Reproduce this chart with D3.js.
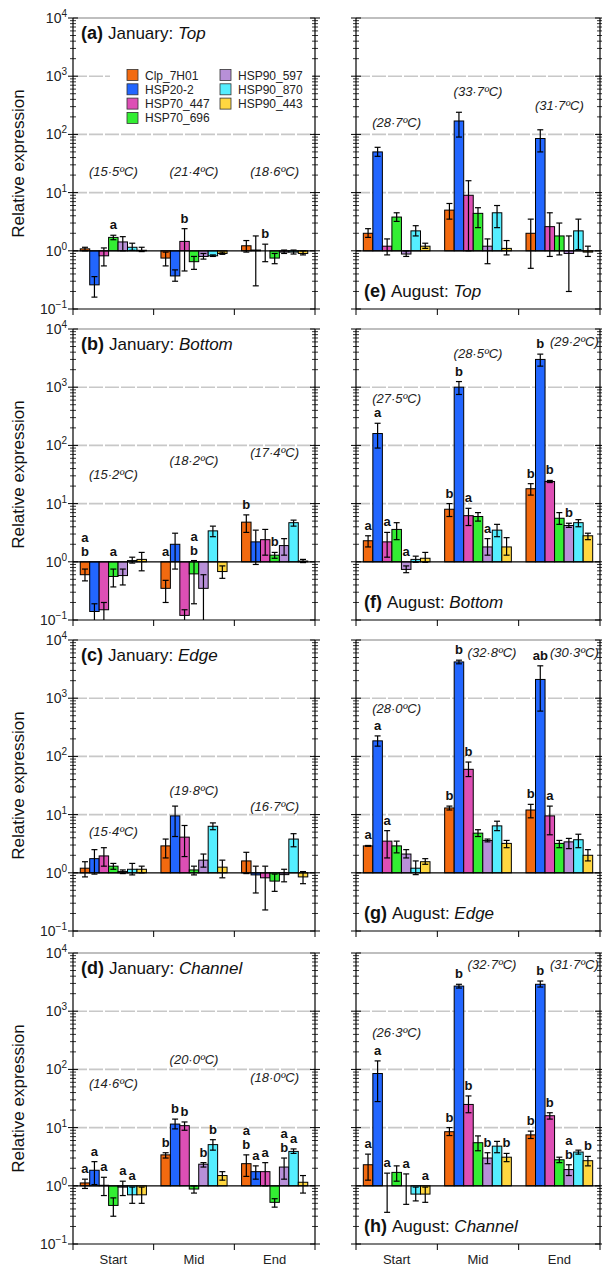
<!DOCTYPE html>
<html><head><meta charset="utf-8">
<script src="https://cdn.jsdelivr.net/npm/d3@7/dist/d3.min.js"></script>
<style>body{margin:0;background:#fff}svg{font-family:Arial,"Liberation Sans",sans-serif}</style>
</head><body><svg id="c" width="602" height="1270"></svg>
<script>
const genes = ["Clp_7H01","HSP20-2","HSP70_447","HSP70_696","HSP90_597","HSP90_870","HSP90_443"];
const colors = ["#f26a10","#2266ff","#dd4fb5","#33ee33","#b890d8","#55eeff","#ffd740"];
const stages = ["Start","Mid","End"];

// value, low, high of error bar: [stage][gene]
const janTopV=[[1.08,0.26,0.82,1.7,1.42,1.15,1.02],[0.75,0.37,1.45,0.65,0.8,0.82,0.9],[1.22,1.03,1.0,0.75,0.95,0.95,0.9]];
const janTopLo=[[1.0,0.16,0.55,1.55,1.0,1.02,0.97],[0.55,0.3,0.45,0.48,0.72,0.8,0.87],[0.95,0.25,0.65,0.6,0.9,0.88,0.85]];
const janTopHi=[[1.15,0.36,1.12,1.85,1.75,1.35,1.15],[0.95,0.47,2.4,0.8,0.9,0.85,0.95],[1.5,1.8,1.3,0.9,1.03,1.03,1.0]];
const janBotV=[[0.6,0.14,0.15,0.56,0.58,1.05,1.1],[0.35,2.0,0.12,0.62,0.35,3.4,0.68],[4.8,2.2,2.4,1.3,1.9,4.7,1.03]];
const janBotLo=[[0.47,0.1,0.1,0.37,0.4,0.95,0.7],[0.2,0.75,0.1,0.19,0.1,2.7,0.52],[3.2,0.9,1.3,1.15,1.3,4.1,0.97]];
const janBotHi=[[0.75,0.19,0.2,0.75,0.75,1.2,1.45],[0.48,3.1,0.15,1.05,0.6,4.1,0.85],[6.4,3.5,3.6,1.45,2.5,5.2,1.1]];
const janEdgV=[[1.2,1.75,1.95,1.3,1.05,1.15,1.15],[2.9,9.5,4.1,1.12,1.65,6.3,1.25],[1.6,0.92,0.82,0.72,0.93,3.8,0.85]];
const janEdgLo=[[0.85,0.95,1.3,1.15,0.97,0.92,1.0],[1.8,4.2,1.9,0.92,1.25,5.5,0.82],[0.97,0.45,0.23,0.48,0.7,2.8,0.65]];
const janEdgHi=[[1.55,2.5,2.7,1.45,1.12,1.45,1.3],[3.8,14,6.5,1.3,2.1,7.2,1.65],[2.25,1.3,1.3,0.95,1.15,4.7,1.05]];
const janChaV=[[1.12,1.85,1.02,0.46,0.95,0.7,0.7],[3.4,11.5,10.8,0.88,2.35,5.1,1.5],[2.4,1.75,1.75,0.52,2.1,3.9,1.15]];
const janChaLo=[[0.9,1.05,0.68,0.3,0.68,0.5,0.5],[3.0,9.5,9.0,0.75,2.1,4.1,1.25],[1.45,1.3,1.0,0.43,1.3,3.6,0.75]];
const janChaHi=[[1.3,2.6,1.4,0.62,1.2,0.95,0.95],[3.7,14,12.5,1.0,2.5,6.2,1.75],[3.4,2.2,2.5,0.6,3.0,4.3,1.5]];
const augTopV=[[2.0,50,1.2,3.8,0.88,2.2,1.2],[5.0,170,9.0,4.4,1.2,4.5,1.1],[2.0,85,2.6,1.8,0.9,2.2,0.95]];
const augTopLo=[[1.7,42,0.85,3.2,0.8,1.8,1.1],[3.5,90,1.0,2.5,0.6,2.5,0.85],[0.5,50,0.8,0.85,0.2,1.05,0.8]];
const augTopHi=[[2.4,60,1.6,4.5,1.0,2.7,1.35],[6.5,240,16,5.5,1.6,6.0,1.5],[3.5,120,4.5,3.0,1.8,3.5,1.2]];
const augBotV=[[2.3,160,2.2,3.6,0.74,1.1,1.15],[8,1000,6.2,6.0,1.8,3.5,1.8],[18,3000,24,5.6,4.2,4.7,2.8]];
const augBotLo=[[1.8,90,1.2,2.4,0.65,0.98,0.98],[6,750,4.2,5.0,1.3,2.7,1.3],[14,2300,23,4.4,3.9,4.0,2.4]];
const augBotHi=[[2.8,240,3.2,4.7,0.85,1.25,1.45],[10,1250,8.3,7.0,2.5,4.4,2.6],[22,3700,25,7.0,4.6,5.3,3.1]];
const augEdgV=[[2.9,185,3.5,2.9,2.1,1.2,1.55],[13,4200,60,4.8,3.6,6.4,3.2],[12,2100,9.5,3.2,3.4,3.7,2.0]];
const augEdgLo=[[2.85,150,1.8,2.2,1.8,0.93,1.4],[12,3900,45,4.2,3.4,5.3,2.7],[8.8,600,4.5,2.7,2.6,2.7,1.6]];
const augEdgHi=[[2.95,225,5.3,3.5,2.5,1.6,1.75],[14,4500,80,5.5,3.8,7.7,3.6],[15,3600,14,3.6,3.9,4.6,2.5]];
const augChaV=[[2.3,85,1.0,1.7,1.0,0.72,0.72],[8.5,2700,25,5.5,3.0,4.8,3.1],[7.5,2900,16,2.8,1.9,3.8,2.7]];
const augChaLo=[[1.25,28,0.35,1.2,0.48,0.55,0.52],[7.3,2500,18,4.0,2.4,3.7,2.6],[6.5,2600,14,2.5,1.5,3.5,2.2]];
const augChaHi=[[3.5,140,1.65,2.2,1.6,0.95,0.95],[10,2900,35,7.2,3.7,5.8,3.6],[8.7,3300,18,3.1,2.3,4.1,3.2]];

// significance letters: [stage, gene, text]
const lettersA=[[0,3,"a"],[1,2,"b"],[2,2,"b"]];
const lettersB=[[0,0,"a\nb"],[0,3,"a"],[1,0,"a"],[1,3,"a\nb"],[2,0,"b"],[2,3,"b"]];
const lettersC=[];
const lettersD=[[0,0,"a"],[0,1,"a"],[0,2,"a"],[0,4,"a"],[0,5,"a"],[1,0,"b"],[1,1,"b"],[1,2,"b"],[1,4,"b"],[1,5,"b"],[2,0,"a\nb"],[2,1,"a"],[2,2,"a"],[2,4,"a\nb"],[2,5,"a"]];
const lettersE=[];
const lettersF=[[0,0,"a"],[0,1,"a"],[0,2,"a"],[0,4,"a"],[1,0,"b"],[1,1,"b"],[1,2,"a"],[1,4,"a"],[2,0,"b"],[2,1,"b"],[2,2,"b"],[2,4,"b"]];
const lettersG=[[0,0,"a"],[0,1,"a"],[0,2,"a"],[1,0,"b"],[1,1,"b"],[1,2,"b"],[2,0,"b"],[2,1,"ab"],[2,2,"a"]];
const lettersH=[[0,0,"a"],[0,1,"a"],[0,2,"a"],[0,4,"a"],[0,6,"a"],[1,0,"b"],[1,1,"b"],[1,2,"b"],[1,4,"b"],[1,6,"b"],[2,0,"b"],[2,1,"b"],[2,2,"b"],[2,4,"a\nb"],[2,6,"b"]];

// temperature labels: [text, value level (log10), x shift]
const tempA=[["(15·5ºC)",1.36,0],["(21·4ºC)",1.36,0],["(18·6ºC)",1.36,0]];
const tempB=[["(15·2ºC)",1.49,0],["(18·2ºC)",1.74,0],["(17·4ºC)",1.87,0]];
const tempC=[["(15·4ºC)",0.7,0],["(19·8ºC)",1.41,0],["(16·7ºC)",1.13,0]];
const tempD=[["(14·6ºC)",1.75,0],["(20·0ºC)",2.16,0],["(18·0ºC)",1.86,0]];
const tempE=[["(28·7ºC)",2.19,0],["(33·7ºC)",2.72,0],["(31·7ºC)",2.48,0]];
const tempF=[["(27·5ºC)",2.8,0],["(28·5ºC)",3.57,0],["(29·2ºC)",3.78,15]];
const tempG=[["(28·0ºC)",2.82,0],["(32·8ºC)",3.78,14],["(30·3ºC)",3.78,15]];
const tempH=[["(26·3ºC)",2.62,0],["(32·7ºC)",3.8,14],["(31·7ºC)",3.8,15]];

const panels=[
 {id:"(a)",mon:"January: ",site:"Top",col:0,row:0,v:janTopV,lo:janTopLo,hi:janTopHi,let:lettersA,t:tempA},
 {id:"(b)",mon:"January: ",site:"Bottom",col:0,row:1,v:janBotV,lo:janBotLo,hi:janBotHi,let:lettersB,t:tempB},
 {id:"(c)",mon:"January: ",site:"Edge",col:0,row:2,v:janEdgV,lo:janEdgLo,hi:janEdgHi,let:lettersC,t:tempC},
 {id:"(d)",mon:"January: ",site:"Channel",col:0,row:3,v:janChaV,lo:janChaLo,hi:janChaHi,let:lettersD,t:tempD},
 {id:"(e)",mon:"August: ",site:"Top",col:1,row:0,v:augTopV,lo:augTopLo,hi:augTopHi,let:lettersE,t:tempE},
 {id:"(f)",mon:"August: ",site:"Bottom",col:1,row:1,v:augBotV,lo:augBotLo,hi:augBotHi,let:lettersF,t:tempF},
 {id:"(g)",mon:"August: ",site:"Edge",col:1,row:2,v:augEdgV,lo:augEdgLo,hi:augEdgHi,let:lettersG,t:tempG},
 {id:"(h)",mon:"August: ",site:"Channel",col:1,row:3,v:augChaV,lo:augChaLo,hi:augChaHi,let:lettersH,t:tempH}
];

const svg=d3.select("#c");
const colX=[[73,315],[356,600]];
const tops=[18,329,640,953], H=291;
const sup={"-1":"−1","0":"0","1":"1","2":"2","3":"3","4":"4"};

panels.forEach(p=>{
  const [x0,x1]=colX[p.col], top=tops[p.row], bot=top+H;
  const y=d3.scaleLog().domain([0.1,10000]).range([bot,top]).clamp(true);
  const xg=d3.scaleBand().domain(stages).range([x0,x1]);
  const xb=d3.scaleBand().domain(d3.range(7)).range([0,xg.bandwidth()*0.82]);
  const off=xg.bandwidth()*0.09;
  const g=svg.append("g");
  [10,100,1000].forEach(t=>g.append("line").attr("x1",x0).attr("x2",x1).attr("y1",y(t)).attr("y2",y(t))
    .attr("stroke","#c8c8c8").attr("stroke-width",1.6).attr("stroke-dasharray","14,2"));
  g.append("line").attr("x1",x0).attr("x2",x1).attr("y1",top).attr("y2",top).attr("stroke","#aaa").attr("stroke-width",1.6);
  const maj=[0.1,1,10,100,1000,10000];
  const minor=[];
  for(let e=-1;e<4;e++)for(let m=2;m<10;m++)minor.push(m*Math.pow(10,e));
  [x0,x1].forEach(xx=>{
    maj.forEach(t=>g.append("line").attr("x1",xx-5).attr("x2",xx+5).attr("y1",y(t)).attr("y2",y(t)).attr("stroke","#000"));
    minor.forEach(t=>g.append("line").attr("x1",xx-3).attr("x2",xx+3).attr("y1",y(t)).attr("y2",y(t)).attr("stroke","#000").attr("stroke-width",0.8));
  });
  if(p.col===0){
    maj.forEach(t=>{
      const e=Math.round(Math.log10(t));
      const tx=g.append("text").attr("x",67).attr("y",y(t)+5).attr("text-anchor","end").attr("font-size",14).attr("fill","#222");
      tx.append("tspan").text("10");
      tx.append("tspan").attr("dy",-6).attr("font-size",10).text(sup[e]);
    });
    g.append("text").attr("transform",`translate(24,${top+H/2}) rotate(-90)`).attr("text-anchor","middle")
      .attr("font-size",17).attr("fill","#111").text("Relative expression");
  }
  stages.forEach((s,si)=>{
    genes.forEach((gn,gi)=>{
      const v=p.v[si][gi], bx=xg(s)+off+xb(gi), w=xb.bandwidth();
      const ya=y(Math.max(v,1)), yb=y(Math.min(v,1));
      g.append("rect").attr("x",bx).attr("y",ya).attr("width",w).attr("height",Math.max(0,yb-ya))
        .attr("fill",colors[gi]).attr("stroke","#000").attr("stroke-width",1);
    });
  });
  g.append("line").attr("x1",x0).attr("x2",x1).attr("y1",y(1)).attr("y2",y(1)).attr("stroke","#000").attr("stroke-width",1.2);
  stages.forEach((s,si)=>{
    genes.forEach((gn,gi)=>{
      const cx=xg(s)+off+xb(gi)+xb.bandwidth()/2;
      const l=y(p.lo[si][gi]), h=y(p.hi[si][gi]);
      g.append("line").attr("x1",cx).attr("x2",cx).attr("y1",l).attr("y2",h).attr("stroke","#000").attr("stroke-width",1.2);
      [l,h].forEach(yy=>{ if(yy<bot-0.5) g.append("line").attr("x1",cx-3).attr("x2",cx+3).attr("y1",yy).attr("y2",yy).attr("stroke","#000").attr("stroke-width",1.2);});
    });
  });
  p.let.forEach(([si,gi,txt])=>{
    const cx=xg(stages[si])+off+xb(gi)+xb.bandwidth()/2;
    const base=y(Math.max(p.hi[si][gi],1))-6;
    const lines=txt.split("\n");
    lines.forEach((ln,k)=>g.append("text").attr("x",cx).attr("y",base-(lines.length-1-k)*14)
      .attr("text-anchor","middle").attr("font-size",13).attr("font-weight","bold").attr("fill","#111").text(ln));
  });
  p.t.forEach(([txt,lv,dx],si)=>{
    g.append("text").attr("x",xg(stages[si])+xg.bandwidth()/2+dx).attr("y",y(Math.pow(10,lv))+4)
      .attr("text-anchor","middle").attr("font-size",13).attr("font-style","italic").attr("fill","#222").text(txt);
  });
  g.append("line").attr("x1",x0).attr("x2",x0).attr("y1",top).attr("y2",bot).attr("stroke","#000").attr("stroke-width",1.2);
  g.append("line").attr("x1",x1).attr("x2",x1).attr("y1",top).attr("y2",bot).attr("stroke","#000").attr("stroke-width",1.2);
  g.append("line").attr("x1",x0).attr("x2",x1).attr("y1",bot).attr("y2",bot).attr("stroke","#000").attr("stroke-width",1.2);
  [x0,xg("Mid"),xg("End"),x1].forEach(xx=>g.append("line").attr("x1",xx).attr("x2",xx).attr("y1",bot).attr("y2",bot+6).attr("stroke","#000"));
  if(p.row===3) stages.forEach(s=>g.append("text").attr("x",xg(s)+xg.bandwidth()/2).attr("y",bot+20)
      .attr("text-anchor","middle").attr("font-size",13).attr("fill","#222").text(s));
  const ty = p.col===0 ? top+21 : bot-12;
  const tt=g.append("text").attr("x",x0+8).attr("y",ty).attr("font-size",17).attr("fill","#111");
  tt.append("tspan").attr("font-weight","bold").attr("font-size",18).text(p.id+" ");
  tt.append("tspan").text(p.mon);
  tt.append("tspan").attr("font-style","italic").text(p.site);
  if(p.id==="(a)"){
    g.append("rect").attr("x",110).attr("y",66).attr("width",202).attr("height",60).attr("fill","#fff");
    genes.forEach((gn,i)=>{
      const c=i<4?0:1, r=i<4?i:i-4;
      const lx=c===0?127:220, ly=75+r*14.3;
      g.append("rect").attr("x",lx).attr("y",ly-5.5).attr("width",11).attr("height",11).attr("fill",colors[i]).attr("stroke","#333").attr("stroke-width",0.8);
      g.append("text").attr("x",lx+18).attr("y",ly+4.5).attr("font-size",12).attr("fill","#222").text(gn);
    });
  }
});
</script></body></html>
